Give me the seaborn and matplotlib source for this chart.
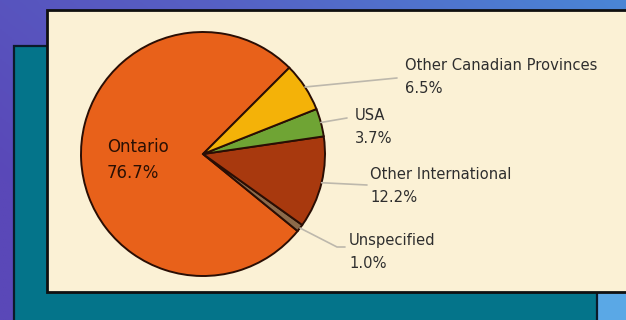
import numpy as np
import matplotlib
matplotlib.use("Agg")
import matplotlib.pyplot as plt
from matplotlib.patches import Rectangle
from matplotlib.colors import LinearSegmentedColormap
import seaborn as sns

# Student origin breakdown
regions = ["Ontario", "Unspecified", "Other International", "USA",
           "Other Canadian Provinces"]
shares = [76.7, 1.0, 12.2, 3.7, 6.5]
slice_colors = ["#E8611A", "#8C6A4A", "#A8390E", "#6FA434", "#F4B208"]

sns.set_style("white")
plt.rcParams["font.family"] = ["DejaVu Sans"]

W, H = 626, 320
fig = plt.figure(figsize=(W / 100, H / 100), dpi=100)

# Slide background: purple-to-blue diagonal gradient
bg = fig.add_axes([0, 0, 1, 1], zorder=0)
bg.set_axis_off()
yy, xx = np.mgrid[0:1:200j, 0:1:300j]
t = np.clip(0.75 * xx + 0.45 * (1 - yy) - 0.2, 0, 1)
grad = LinearSegmentedColormap.from_list(
    "slide", ["#5A48B8", "#5660C4", "#4A86D6"])
bg.imshow(t, cmap=grad, extent=[0, 1, 0, 1], aspect="auto", origin="upper",
          zorder=0)
bg.set_xlim(0, 1)
bg.set_ylim(0, 1)


def px_rect(x0, y0, x1, y1, z, **kw):
    """Rectangle given in pixel coordinates measured from the top-left."""
    r = Rectangle((x0 / W, 1 - y1 / H), (x1 - x0) / W, (y1 - y0) / H,
                  transform=bg.transAxes, zorder=z, clip_on=False, **kw)
    bg.add_patch(r)
    return r


# light blue block at the bottom right
px_rect(597, 280, 640, 330, 1, facecolor="#5AA8E6", edgecolor="none")
# teal frame behind the chart
px_rect(14, 46, 597, 330, 2, facecolor="#04748A", edgecolor="#0B1A2A",
        linewidth=1.6)
# cream chart panel
px_rect(47, 10, 640, 292, 3, facecolor="#FBF1D5", edgecolor="#101010",
        linewidth=2.0)

# Pie axes, centred at (203, 154) px with 122 px radius
cx, cy, R = 203, 154, 122
ax = fig.add_axes([(cx - R) / W, (H - cy - R) / H, 2 * R / W, 2 * R / H],
                  zorder=5)
ax.set_axis_off()
ax.patch.set_alpha(0)
wedges, _ = ax.pie(shares, colors=slice_colors, startangle=45,
                   counterclock=True, radius=1,
                   wedgeprops=dict(edgecolor="#2A0E04", linewidth=1.4))
ax.set_xlim(-1, 1)
ax.set_ylim(-1, 1)
ax.set_aspect("equal")


def to_data(px, py):
    return (px - cx) / R, (cy - py) / R


# label anchor (left x, centre y) and leader-line path, in pixels
label_pos = {
    "Other Canadian Provinces": ((405, 77), [(397, 78)]),
    "USA": ((355, 127), [(347, 118)]),
    "Other International": ((370, 186), [(367, 185)]),
    "Unspecified": ((349, 252), [(337, 247), (345, 247)]),
}

for w, name, val in zip(wedges, regions, shares):
    if name == "Ontario":
        tx, ty = to_data(107, 160)
        ax.text(tx, ty, f"{name}\n{val:.1f}%", ha="left", va="center",
                fontsize=12, color="#2A1004", linespacing=1.6,
                clip_on=False)
        continue
    mid = np.deg2rad((w.theta1 + w.theta2) / 2)
    xs = [np.cos(mid)]
    ys = [np.sin(mid)]
    (lx, ly), path = label_pos[name]
    for px, py in path:
        dx, dy = to_data(px, py)
        xs.append(dx)
        ys.append(dy)
    ax.plot(xs, ys, color="#BDB8AC", linewidth=1.2, clip_on=False)
    tx, ty = to_data(lx, ly)
    ax.text(tx, ty, f"{name}\n{val:.1f}%", ha="left", va="center",
            fontsize=10.6, color="#2E2E2E", linespacing=1.65, clip_on=False)

fig.savefig("out.png", dpi=100)
